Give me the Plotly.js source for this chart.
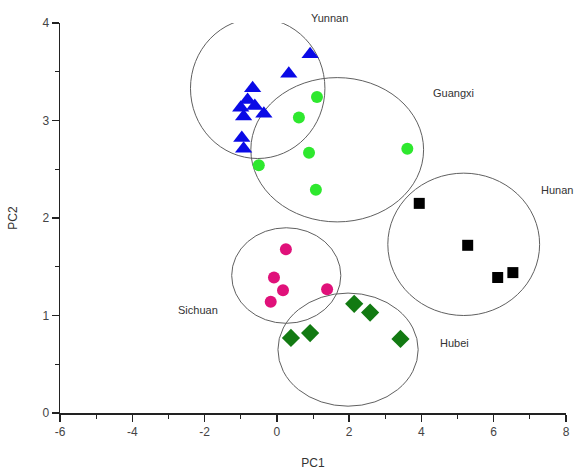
<!DOCTYPE html>
<html>
<head>
<meta charset="utf-8">
<script src="https://cdn.plot.ly/plotly-3.0.1.min.js"></script>
<style>html,body{margin:0;padding:0;background:#fff;}#chart{width:583px;height:472px;}</style>
</head>
<body>
<div id="chart"></div>
<script>
// Data
const yunnanX = [0.92, 0.33, -0.67, -0.81, -1.0, -0.61, -0.36, -0.92, -0.97, -0.92];
const yunnanY = [3.68, 3.48, 3.33, 3.21, 3.13, 3.15, 3.07, 3.04, 2.82, 2.71];
const guangxiX = [1.11, 0.61, 0.89, 1.08, 3.61, -0.5];
const guangxiY = [3.24, 3.03, 2.67, 2.29, 2.71, 2.54];
const hunanX = [3.94, 5.28, 6.11, 6.53];
const hunanY = [2.15, 1.72, 1.39, 1.44];
const sichuanX = [0.25, -0.08, 0.17, -0.17, 1.39];
const sichuanY = [1.68, 1.39, 1.26, 1.14, 1.27];
const hubeiX = [2.14, 2.58, 0.39, 0.92, 3.42];
const hubeiY = [1.12, 1.03, 0.77, 0.82, 0.76];

// Group ellipses: [cx, cy, rx, ry]
const groupNames = ['Yunnan', 'Guangxi', 'Hunan', 'Sichuan', 'Hubei'];
const ellipseCX = [-0.53, 1.67, 5.17, 0.26, 1.97];
const ellipseCY = [3.33, 2.70, 1.73, 1.41, 0.65];
const ellipseRX = [1.86, 2.39, 2.10, 1.51, 1.94];
const ellipseRY = [0.72, 0.74, 0.73, 0.49, 0.58];
const labelX = [1.47, 4.89, 7.75, -2.17, 4.92];
const labelY = [4.05, 3.28, 2.29, 1.06, 0.72];

const xTicks = [-6, -4, -2, 0, 2, 4, 6, 8];
const yTicks = [0, 1, 2, 3, 4];
const yMax = 4;

function tr(x, y, sym, color, size, name) {
  return {x: x, y: y, type: 'scatter', mode: 'markers', name: name,
    cliponaxis: false,
    marker: {symbol: sym, color: color, size: size, line: {width: 0}}};
}
const traces = [
  tr(guangxiX, guangxiY, 'circle', '#2ee82e', 12, 'Guangxi'),
  tr(yunnanX, yunnanY, 'triangle-up', '#0a0ae6', 15, 'Yunnan'),
  tr(hunanX, hunanY, 'square', '#000000', 11, 'Hunan'),
  tr(sichuanX, sichuanY, 'circle', '#e0117a', 12, 'Sichuan'),
  tr(hubeiX, hubeiY, 'diamond', '#127a12', 14, 'Hubei')
];

const shapes = groupNames.map((n, i) => ({
  type: 'circle', xref: 'x', yref: 'y', layer: 'below',
  x0: ellipseCX[i] - ellipseRX[i], x1: ellipseCX[i] + ellipseRX[i],
  y0: ellipseCY[i] - ellipseRY[i], y1: ellipseCY[i] + ellipseRY[i],
  line: {color: '#606060', width: 1}
}));

const FONT = 'Liberation Sans, Arial, sans-serif';
const annotations = groupNames.map((n, i) => ({
  x: labelX[i], y: labelY[i] / yMax, xref: 'x', yref: 'paper', text: n, showarrow: false,
  xanchor: 'center', yanchor: 'middle',
  font: {family: FONT, size: 11, color: '#333'}
}));

const axisCommon = {
  showgrid: false, zeroline: false, showline: true, linecolor: '#222', linewidth: 1.5,
  ticks: 'outside', ticklen: 7, tickwidth: 1.5, tickcolor: '#222',
  tickfont: {family: FONT, size: 12, color: '#444'},
  minor: {ticks: 'outside', ticklen: 4, tickwidth: 1, tickcolor: '#222'}
};

const layout = {
  width: 583, height: 472,
  margin: {l: 60, r: 17, t: 23, b: 59},
  paper_bgcolor: '#fff', plot_bgcolor: '#fff',
  showlegend: false,
  xaxis: Object.assign({}, axisCommon, {
    range: [-6, 8], tickvals: xTicks, ticktext: xTicks.map(String),
    minor: Object.assign({}, axisCommon.minor, {dtick: 1, tick0: 0, tickmode: 'linear'}),
    title: {text: 'PC1', standoff: 20, font: {family: FONT, size: 12, color: '#333'}}
  }),
  yaxis: Object.assign({}, axisCommon, {
    range: [0, yMax], tickvals: yTicks, ticktext: yTicks.map(String),
    minor: Object.assign({}, axisCommon.minor, {dtick: 0.5, tick0: 0, tickmode: 'linear'}),
    title: {text: 'PC2', standoff: 22, font: {family: FONT, size: 12, color: '#333'}}
  }),
  shapes: shapes,
  annotations: annotations
};

Plotly.newPlot('chart', traces, layout, {displayModeBar: false, staticPlot: true});
</script>
</body>
</html>
